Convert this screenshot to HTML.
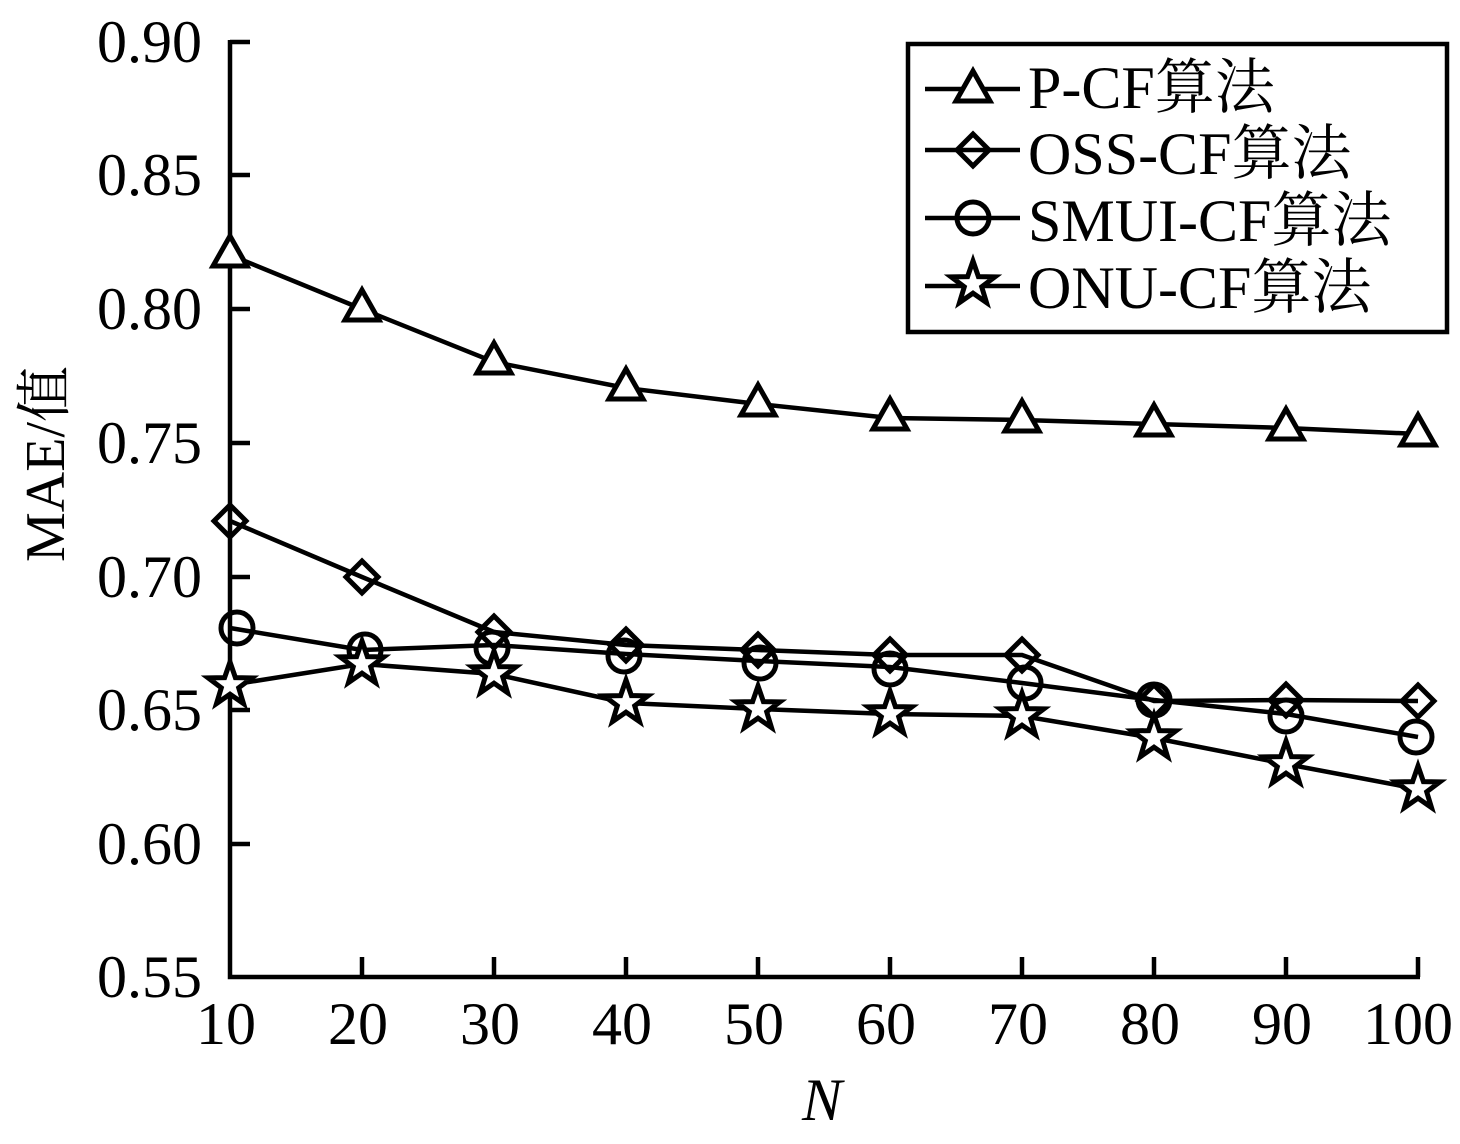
<!DOCTYPE html>
<html><head><meta charset="utf-8"><style>body{margin:0;background:#fff}</style></head><body>
<svg width="1460" height="1139" xmlns="http://www.w3.org/2000/svg" font-family="Liberation Serif, Noto Serif CJK SC, serif">
<defs>
<g id="tri"><path d="M0,-19 L17,11 L-17,11 Z" fill="#fff" stroke="#000" stroke-width="5"/></g>
<g id="dia"><path d="M0,-16 L16,0 L0,16 L-16,0 Z" fill="none" stroke="#000" stroke-width="5"/></g>
<g id="cir"><circle r="16" fill="none" stroke="#000" stroke-width="5"/></g>
<g id="star"><path d="M0,-23 L5.4,-7.4 L21.9,-7.1 L8.7,2.8 L13.5,18.6 L0,9.2 L-13.5,18.6 L-8.7,2.8 L-21.9,-7.1 L-5.4,-7.4 Z" fill="#fff" stroke="#000" stroke-width="5" stroke-linejoin="miter"/></g>
</defs>
<g stroke="#000" stroke-width="4.5" fill="none">
<path d="M230,40 V977 H1420"/>
<path d="M230,42 H250 M230,175 H250 M230,309 H250 M230,443 H250 M230,577 H250 M230,710 H250 M230,844 H250"/>
<path d="M362,977 V957 M494,977 V957 M626,977 V957 M758,977 V957 M890,977 V957 M1022,977 V957 M1154,977 V957 M1286,977 V957 M1418,977 V957"/>
</g>
<g font-size="60" text-anchor="end">
<text x="202" y="62">0.90</text><text x="202" y="195">0.85</text><text x="202" y="329">0.80</text><text x="202" y="463">0.75</text><text x="202" y="597">0.70</text><text x="202" y="730">0.65</text><text x="202" y="864">0.60</text><text x="202" y="997">0.55</text>
</g>
<g font-size="60" text-anchor="middle">
<text x="226" y="1044">10</text><text x="358" y="1044">20</text><text x="490" y="1044">30</text><text x="622" y="1044">40</text><text x="754" y="1044">50</text><text x="886" y="1044">60</text><text x="1018" y="1044">70</text><text x="1150" y="1044">80</text><text x="1282" y="1044">90</text><text x="1408" y="1044">100</text>
</g>
<text x="822" y="1120" font-size="60" font-style="italic" text-anchor="middle">N</text>
<text transform="translate(64,464) rotate(-90)" font-size="56" text-anchor="middle">MAE/值</text>
<g stroke="#000" stroke-width="4.5" fill="none">
<polyline points="230,255 362,309 494,362 626,388 758,404 890,418 1022,420 1154,424 1286,428 1418,434"/>
<polyline points="230,521 362,577 494,632 626,645 758,650 890,655 1022,655 1154,701 1286,700 1418,701"/>
<polyline points="230,628 362,650 494,645 626,654 758,661 890,667 1022,683 1154,700 1286,714 1418,737"/>
<polyline points="230,685 362,664 494,674 626,703 758,709 890,714 1022,716 1154,738 1286,764 1418,789"/>
</g>
<g>
<use href="#tri" x="230" y="255"/><use href="#tri" x="362" y="309"/><use href="#tri" x="494" y="362"/><use href="#tri" x="626" y="388"/><use href="#tri" x="758" y="404"/><use href="#tri" x="890" y="418"/><use href="#tri" x="1022" y="420"/><use href="#tri" x="1154" y="424"/><use href="#tri" x="1286" y="428"/><use href="#tri" x="1418" y="434"/>
<use href="#dia" x="230" y="521"/><use href="#dia" x="362" y="577"/><use href="#dia" x="494" y="632"/><use href="#dia" x="626" y="645"/><use href="#dia" x="758" y="650"/><use href="#dia" x="890" y="655"/><use href="#dia" x="1022" y="655"/><use href="#dia" x="1154" y="701"/><use href="#dia" x="1286" y="700"/><use href="#dia" x="1418" y="701"/>
<use href="#cir" x="237" y="628"/><use href="#cir" x="365" y="650"/><use href="#cir" x="492" y="648"/><use href="#cir" x="624" y="656"/><use href="#cir" x="760" y="663"/><use href="#cir" x="890" y="669"/><use href="#cir" x="1025" y="683"/><use href="#cir" x="1154" y="700"/><use href="#cir" x="1286" y="716"/><use href="#cir" x="1416" y="737"/>
<use href="#star" x="230" y="685"/><use href="#star" x="362" y="664"/><use href="#star" x="494" y="674"/><use href="#star" x="626" y="703"/><use href="#star" x="758" y="709"/><use href="#star" x="890" y="714"/><use href="#star" x="1022" y="716"/><use href="#star" x="1154" y="738"/><use href="#star" x="1286" y="764"/><use href="#star" x="1418" y="789"/>
</g>
<rect x="908" y="44" width="539" height="288" fill="none" stroke="#000" stroke-width="4.5"/>
<g stroke="#000" stroke-width="4.5">
<path d="M925,89 H1020 M925,150 H1020 M925,218 H1020 M925,286 H1020"/>
</g>
<use href="#tri" x="973" y="90"/><use href="#dia" x="973" y="150"/><use href="#cir" x="973" y="218"/><use href="#star" x="973" y="284"/>
<g font-size="60">
<text x="1028" y="108">P-CF算法</text>
<text x="1028" y="174">OSS-CF算法</text>
<text x="1028" y="241">SMUI-CF算法</text>
<text x="1028" y="308">ONU-CF算法</text>
</g>
</svg>
</body></html>
